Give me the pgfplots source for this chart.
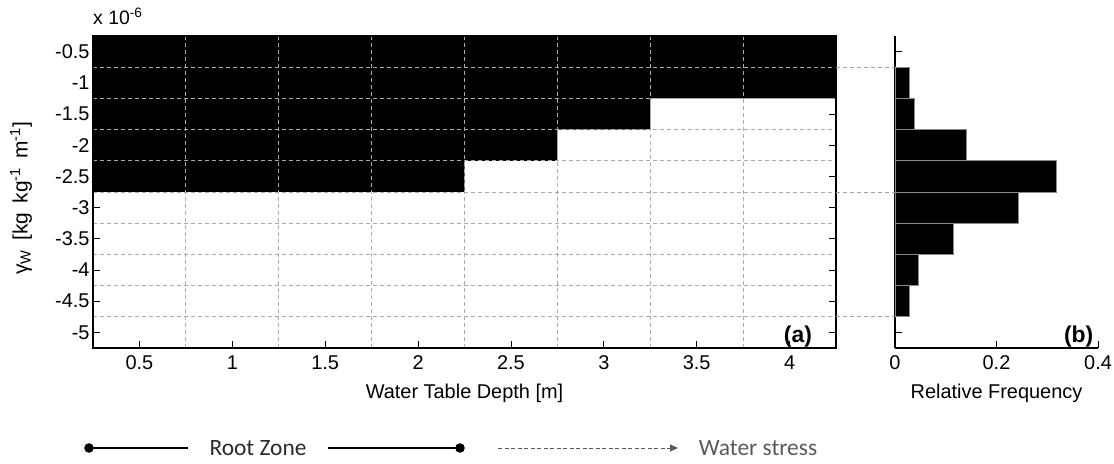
\documentclass[border=0pt]{standalone}
\usepackage{fontspec}
\setmainfont{Liberation Sans}
\newfontfamily\legendfont{Carlito}
\usepackage{pgfplots}
\pgfplotsset{compat=1.18}
\usetikzlibrary{arrows.meta}

\definecolor{gridgray}{HTML}{ABABAB}
\definecolor{linkgray}{HTML}{A0A0A0}
\definecolor{edgegray}{HTML}{8A8A8A}
\definecolor{rzcolor}{HTML}{2A2A2A}
\definecolor{wscolor}{HTML}{5A5A5A}

\begin{document}
\begin{tikzpicture}[x=1bp,y=1bp]
\useasboundingbox (0,0) rectangle (1114,464);
\pgfplotsset{
  common/.style={
    scale only axis,
    height=312bp,
    ymin=-5.25, ymax=-0.25,
    ytick={-5,-4.5,-4,-3.5,-3,-2.5,-2,-1.5,-1,-0.5},
    tick align=inside,
    major tick length=7bp,
    tick style={black, line width=0.8bp},
    axis line style={black, line width=1.1bp},
    tick label style={font=\fontsize{20}{22}\selectfont},
    label style={font=\fontsize{20}{22}\selectfont},
    /pgf/number format/assume math mode=true,
  }
}

% (a) onset of water stress: black cells reach down to this gamma_W value
\begin{axis}[common,
  at={(93bp,116bp)}, anchor=south west, width=743bp,
  xmin=0.25, xmax=4.25,
  xtick={0.5,1,1.5,2,2.5,3,3.5,4},
  minor xtick={0.75,1.25,1.75,2.25,2.75,3.25,3.75},
  minor ytick={-4.75,-4.25,-3.75,-3.25,-2.75,-2.25,-1.75,-1.25,-0.75},
  minor tick length=0pt,
  grid=minor,
  minor grid style={gridgray, dash pattern=on 4bp off 3bp, line width=0.8bp},
  axis on top,
  xticklabel style={yshift=-4bp},
  xlabel={Water Table Depth [m]},
  xlabel style={at={(axis description cs:0.5,-0.145)}, anchor=center},
  ylabel={γ\textsubscript{W}\, [kg\, kg\textsuperscript{-1}\, m\textsuperscript{-1}]},
  ylabel style={at={(axis description cs:-0.097,0.48)}, anchor=center,
    font=\fontsize{21}{24}\selectfont},
]
\addplot[ybar, bar width=0.5, bar shift=0pt, fill=black, draw=none]
  coordinates {(0.5,-2.75) (1,-2.75) (1.5,-2.75) (2,-2.75)
               (2.5,-2.25) (3,-1.75) (3.5,-1.25) (4,-1.25)};
\coordinate (m1) at (axis cs:4.25,-0.75);
\coordinate (m2) at (axis cs:4.25,-2.75);
\coordinate (m3) at (axis cs:4.25,-4.75);
\node[font=\bfseries\fontsize{23}{26}\selectfont] at (axis cs:4.045,-5.06) {(a)};
\end{axis}

% (b) relative frequency of gamma_W
\begin{axis}[common,
  at={(895bp,116bp)}, anchor=south west, width=203bp,
  xmin=0, xmax=0.4,
  xtick={0,0.2,0.4},
  xticklabels={0,0.2,0.4},
  xticklabel style={yshift=-4bp},
  axis x line*=bottom, axis y line*=left,
  yticklabels={},
  xlabel={Relative Frequency},
  xlabel style={at={(axis description cs:0.5,-0.145)}, anchor=center},
]
\addplot[xbar, bar width=0.5, bar shift=0pt, fill=black, draw=edgegray, line width=0.8bp]
  coordinates {(0.028,-1) (0.038,-1.5) (0.141,-2) (0.318,-2.5)
               (0.244,-3) (0.116,-3.5) (0.047,-4) (0.029,-4.5)};
\coordinate (h1) at (axis cs:0,-0.75);
\coordinate (h2) at (axis cs:0,-2.75);
\coordinate (h3) at (axis cs:0,-4.75);
\node[font=\bfseries\fontsize{23}{26}\selectfont] at (axis cs:0.362,-5.06) {(b)};
\end{axis}

% links between the range of gamma_W and the histogram
\foreach \i in {1,2,3}
  \draw[linkgray, dash pattern=on 4bp off 3bp, line width=0.8bp] (m\i) -- (h\i);

\node[anchor=base west, inner sep=0pt, font=\fontsize{19.5}{22}\selectfont]
  at (93,439) {x 10\textsuperscript{-6}};

% key below the panels
\fill[black] (89,16) circle (4.8bp);
\draw[black, line width=1.2bp] (89,16) -- (188,16);
\node[text=rzcolor, font=\legendfont\fontsize{23.5}{26}\selectfont] at (258,16) {Root Zone};
\draw[black, line width=1.2bp] (328,16) -- (460,16);
\fill[black] (460,16) circle (4.8bp);
\draw[wscolor, line width=0.9bp, dash pattern=on 4bp off 2.5bp,
  -{Triangle[length=8bp,width=7bp]}] (498,16) -- (678,16);
\node[text=wscolor, font=\legendfont\fontsize{23.5}{26}\selectfont] at (758,16) {Water stress};
\end{tikzpicture}
\end{document}
